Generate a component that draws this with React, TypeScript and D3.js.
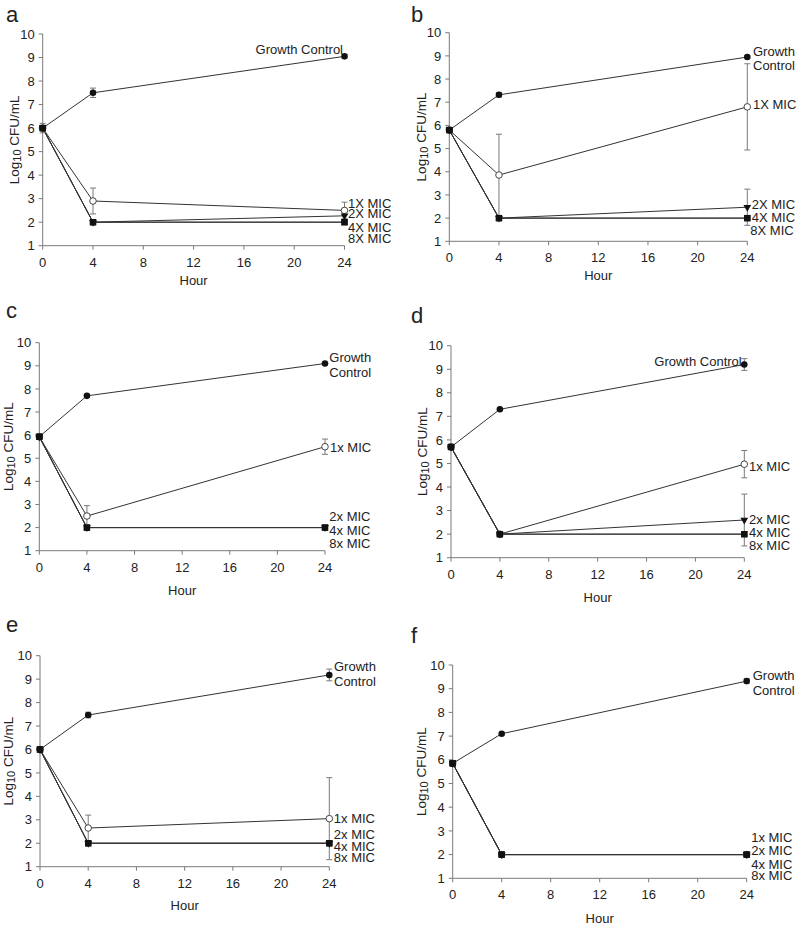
import React from 'react';
import * as d3 from 'd3';

// ---------- shared data ----------
const hours = [0, 4, 24];
const xTicks = [0, 4, 8, 12, 16, 20, 24];
const yTicks = [1, 2, 3, 4, 5, 6, 7, 8, 9, 10];
const panelLetters = ['a', 'b', 'c', 'd', 'e', 'f'];
const namesUpper = ['Growth Control', '1X MIC', '2X MIC', '4X MIC', '8X MIC'];
const namesLower = ['Growth Control', '1x MIC', '2x MIC', '4x MIC', '8x MIC'];

// ---------- panel a ----------
const gcA = [6.0, 7.5, 9.05];
const gcErrA = [0.2, 0.2, 0.08];
const mic1A = [6.0, 2.9, 2.5];
const mic1ErrA = [0, 0.55, 0.35];
const mic2A = [6.0, 2.0, 2.27];
const mic2ErrA = [0, 0, 0];
const mic4A = [6.0, 2.0, 2.0];
const mic8A = [6.0, 2.0, 2.0];

// ---------- panel b ----------
const gcB = [5.8, 7.32, 8.95];
const gcErrB = [0, 0.1, 0.05];
const mic1B = [5.8, 3.86, 6.8];
const mic1ErrB = [0, 1.76, 1.86];
const mic2B = [5.8, 2.0, 2.47];
const mic2ErrB = [0, 0, 0.78];
const mic4B = [5.8, 2.0, 2.0];
const mic8B = [5.8, 2.0, 2.0];

// ---------- panel c ----------
const gcC = [5.93, 7.7, 9.1];
const gcErrC = [0, 0.07, 0];
const mic1C = [5.93, 2.5, 5.5];
const mic1ErrC = [0, 0.45, 0.33];
const mic2C = [5.93, 2.0, 2.0];
const mic2ErrC = [0, 0, 0];
const mic4C = [5.93, 2.0, 2.0];
const mic8C = [5.93, 2.0, 2.0];

// ---------- panel d ----------
const gcD = [5.7, 7.3, 9.2];
const gcErrD = [0, 0, 0.25];
const mic1D = [5.7, 2.0, 4.97];
const mic1ErrD = [0, 0, 0.58];
const mic2D = [5.7, 2.0, 2.6];
const mic2ErrD = [0, 0, 1.1];
const mic4D = [5.7, 2.0, 2.0];
const mic8D = [5.7, 2.0, 2.0];

// ---------- panel e ----------
const gcE = [6.0, 7.47, 9.18];
const gcErrE = [0, 0.12, 0.25];
const mic1E = [6.0, 2.65, 3.05];
const mic1ErrE = [0, 0.55, 1.75];
const mic2E = [6.0, 2.0, 2.0];
const mic2ErrE = [0, 0, 0];
const mic4E = [6.0, 2.0, 2.0];
const mic8E = [6.0, 2.0, 2.0];

// ---------- panel f ----------
const gcF = [5.85, 7.1, 9.32];
const gcErrF = [0.1, 0, 0.1];
const mic1F = [5.85, 2.0, 2.0];
const mic1ErrF = [0, 0, 0];
const mic2F = [5.85, 2.0, 2.0];
const mic2ErrF = [0, 0, 0];
const mic4F = [5.85, 2.0, 2.0];
const mic8F = [5.85, 2.0, 2.0];

const panelData = [
  { names: namesUpper, gc: gcA, gcErr: gcErrA, m1: mic1A, m1Err: mic1ErrA, m2: mic2A, m2Err: mic2ErrA, m4: mic4A, m8: mic8A },
  { names: namesUpper, gc: gcB, gcErr: gcErrB, m1: mic1B, m1Err: mic1ErrB, m2: mic2B, m2Err: mic2ErrB, m4: mic4B, m8: mic8B },
  { names: namesLower, gc: gcC, gcErr: gcErrC, m1: mic1C, m1Err: mic1ErrC, m2: mic2C, m2Err: mic2ErrC, m4: mic4C, m8: mic8C },
  { names: namesLower, gc: gcD, gcErr: gcErrD, m1: mic1D, m1Err: mic1ErrD, m2: mic2D, m2Err: mic2ErrD, m4: mic4D, m8: mic8D },
  { names: namesLower, gc: gcE, gcErr: gcErrE, m1: mic1E, m1Err: mic1ErrE, m2: mic2E, m2Err: mic2ErrE, m4: mic4E, m8: mic8E },
  { names: namesLower, gc: gcF, gcErr: gcErrF, m1: mic1F, m1Err: mic1ErrF, m2: mic2F, m2Err: mic2ErrF, m4: mic4F, m8: mic8F },
];

// ---------- layout (positions only) ----------
// label placement: v = vertical centre in data units, dx = px offset from x(24)
const layouts = [
  {
    left: 42.7, top: 34, right: 344.5, bottom: 245.7, letterX: 6, letterY: 22, titleDx: -28, hourDy: 39,
    gcSplit: false,
    gcLabels: [{ v: 9.36, dx: -1.5, anchor: 'end' }],
    micLabels: [{ v: 2.81, dx: 3.5 }, { v: 2.39, dx: 3.5 }, { v: 1.79, dx: 3.5 }, { v: 1.33, dx: 3.5 }],
  },
  {
    left: 449.3, top: 32.7, right: 747.3, bottom: 241.3, letterX: 411, letterY: 22, titleDx: -27.6, hourDy: 39,
    gcSplit: true,
    gcLabels: [{ v: 9.21, dx: 5.7, anchor: 'start' }, { v: 8.61, dx: 5.7, anchor: 'start' }],
    micLabels: [{ v: 6.92, dx: 5.7 }, { v: 2.61, dx: 4.4 }, { v: 2.05, dx: 4.4 }, { v: 1.49, dx: 3 }],
  },
  {
    left: 39.3, top: 342.7, right: 325, bottom: 550.7, letterX: 6, letterY: 318, titleDx: -31, hourDy: 44,
    gcSplit: true,
    gcLabels: [{ v: 9.38, dx: 4.3, anchor: 'start' }, { v: 8.73, dx: 4.3, anchor: 'start' }],
    micLabels: [{ v: 5.49, dx: 5 }, { v: 2.5, dx: 4.3 }, { v: 1.89, dx: 4.3 }, { v: 1.33, dx: 4.3 }],
  },
  {
    left: 451, top: 345.7, right: 744.3, bottom: 557.7, letterX: 411, letterY: 323, titleDx: -29, hourDy: 44,
    gcSplit: false,
    gcLabels: [{ v: 9.35, dx: -2.6, anchor: 'end' }],
    micLabels: [{ v: 4.9, dx: 4.7 }, { v: 2.64, dx: 4.7 }, { v: 2.09, dx: 4.7 }, { v: 1.54, dx: 4.7 }],
  },
  {
    left: 40, top: 655.7, right: 329.3, bottom: 866.7, letterX: 6, letterY: 632, titleDx: -32, hourDy: 43,
    gcSplit: true,
    gcLabels: [{ v: 9.53, dx: 4.7, anchor: 'start' }, { v: 8.92, dx: 4.7, anchor: 'start' }],
    micLabels: [{ v: 3.08, dx: 4.5 }, { v: 2.4, dx: 4.5 }, { v: 1.88, dx: 4.5 }, { v: 1.39, dx: 4.5 }],
  },
  {
    left: 452.7, top: 665, right: 746.7, bottom: 878.3, letterX: 411, letterY: 643, titleDx: -31, hourDy: 45,
    gcSplit: true,
    gcLabels: [{ v: 9.58, dx: 6, anchor: 'start' }, { v: 8.95, dx: 6, anchor: 'start' }],
    micLabels: [{ v: 2.71, dx: 4.5 }, { v: 2.19, dx: 4.5 }, { v: 1.6, dx: 4.5 }, { v: 1.11, dx: 4.5 }],
  },
];

const FONT = "'Liberation Sans', Arial, Helvetica, sans-serif";
const AXIS = '#7a7a7a';
const LINE = '#333';
const TEXT = '#222';

function Panel({ idx }: { idx: number }) {
  const d = panelData[idx];
  const L = layouts[idx];
  const x = d3.scaleLinear().domain([0, 24]).range([L.left, L.right]);
  const y = d3.scaleLinear().domain([1, 10]).range([L.bottom, L.top]);
  const line = d3
    .line<number>()
    .x((_, i) => x(hours[i]))
    .y((v) => y(v));

  const series = [
    { vals: d.gc, err: d.gcErr, marker: 'dot' },
    { vals: d.m1, err: d.m1Err, marker: 'open' },
    { vals: d.m2, err: d.m2Err, marker: 'tri' },
    { vals: d.m4, err: hours.map(() => 0), marker: 'square' },
    { vals: d.m8, err: hours.map(() => 0), marker: 'square' },
  ];

  const circle = d3.symbol().type(d3.symbolCircle).size(34)();
  const square = d3.symbol().type(d3.symbolSquare).size(40)();
  const tri = d3.symbol().type(d3.symbolTriangle).size(26)();

  const gcLabelTexts = L.gcSplit ? d.names[0].split(' ') : [d.names[0]];
  const cy = (L.top + L.bottom) / 2;
  const tx = L.left + L.titleDx;

  return (
    <g fontFamily={FONT}>
      <text x={L.letterX} y={L.letterY} fontSize={22} fill={TEXT}>
        {panelLetters[idx]}
      </text>

      {/* axes */}
      <line x1={L.left} x2={L.left} y1={y(1)} y2={y(10)} stroke={AXIS} strokeWidth={1} />
      <line x1={x(0)} x2={x(24)} y1={y(1)} y2={y(1)} stroke={AXIS} strokeWidth={1} />
      {yTicks.map((t) => (
        <g key={'y' + t}>
          <line x1={L.left - 4} x2={L.left} y1={y(t)} y2={y(t)} stroke={AXIS} />
          <text x={L.left - 8} y={y(t)} dy="0.36em" textAnchor="end" fontSize={13} fill={TEXT}>
            {t}
          </text>
        </g>
      ))}
      {xTicks.map((t) => (
        <g key={'x' + t}>
          <line x1={x(t)} x2={x(t)} y1={y(1)} y2={y(1) + 4} stroke={AXIS} />
          <text x={x(t)} y={y(1) + 21} textAnchor="middle" fontSize={13} fill={TEXT}>
            {t}
          </text>
        </g>
      ))}
      <text x={(L.left + L.right) / 2} y={L.bottom + L.hourDy} textAnchor="middle" fontSize={13} fill={TEXT}>
        Hour
      </text>
      <text
        transform={`translate(${tx},${cy}) rotate(-90)`}
        textAnchor="middle"
        fontSize={13.5}
        fill={TEXT}
        dy="0.35em"
      >
        <tspan>Log</tspan>
        <tspan fontSize={11} dy={2}>10</tspan>
        <tspan dy={-2}> CFU/mL</tspan>
      </text>

      {/* lines */}
      {series.map((s, i) => (
        <path key={'l' + i} d={line(s.vals) || ''} fill="none" stroke={LINE} strokeWidth={1} />
      ))}

      {/* error bars */}
      {series.map((s, i) =>
        s.vals.map((v, j) =>
          s.err[j] > 0 ? (
            <g key={'e' + i + '-' + j} stroke={AXIS} strokeWidth={1}>
              <line x1={x(hours[j])} x2={x(hours[j])} y1={y(v - s.err[j])} y2={y(v + s.err[j])} />
              <line x1={x(hours[j]) - 3} x2={x(hours[j]) + 3} y1={y(v + s.err[j])} y2={y(v + s.err[j])} />
              <line x1={x(hours[j]) - 3} x2={x(hours[j]) + 3} y1={y(v - s.err[j])} y2={y(v - s.err[j])} />
            </g>
          ) : null
        )
      )}

      {/* markers: growth control first, highest MIC last (on top) */}
      {[0, 1, 2, 3, 4].map((i) => {
        const s = series[i];
        return s.vals.map((v, j) => {
          const tr = `translate(${x(hours[j])},${y(v)})`;
          if (s.marker === 'dot')
            return <path key={'m' + i + j} d={circle || ''} transform={tr} fill="#111" />;
          if (s.marker === 'open')
            return <path key={'m' + i + j} d={circle || ''} transform={tr} fill="#fff" stroke="#333" strokeWidth={0.9} />;
          if (s.marker === 'tri')
            return <path key={'m' + i + j} d={tri || ''} transform={tr + ' rotate(180)'} fill="#111" />;
          return <path key={'m' + i + j} d={square || ''} transform={tr} fill="#111" />;
        });
      })}

      {/* series labels */}
      {L.gcLabels.map((g, k) => (
        <text
          key={'gl' + k}
          x={x(24) + g.dx}
          y={y(g.v)}
          dy="0.36em"
          textAnchor={g.anchor as any}
          fontSize={13}
          fill={TEXT}
        >
          {gcLabelTexts[k]}
        </text>
      ))}
      {L.micLabels.map((m, k) => (
        <text key={'ml' + k} x={x(24) + m.dx} y={y(m.v)} dy="0.36em" fontSize={13} fill={TEXT}>
          {d.names[k + 1]}
        </text>
      ))}
    </g>
  );
}

export default function App() {
  return (
    <svg
      width={800}
      height={928}
      viewBox="0 0 800 928"
      style={{ position: 'absolute', left: 0, top: 0, background: '#fff' }}
    >
      <rect width={800} height={928} fill="#fff" />
      {panelLetters.map((_, i) => (
        <Panel key={i} idx={i} />
      ))}
    </svg>
  );
}
